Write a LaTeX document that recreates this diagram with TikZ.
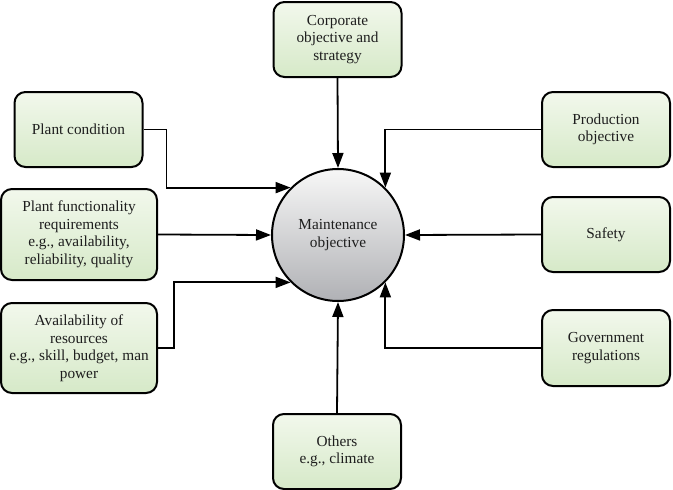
\documentclass[tikz,border=0pt]{standalone}
\usepackage{fontspec}
\setmainfont{Liberation Serif}
\usetikzlibrary{arrows.meta,shapes.geometric}
\definecolor{boxtop}{HTML}{F2F8EC}
\definecolor{boxbot}{HTML}{D6E9C8}
\definecolor{circtop}{HTML}{F7F7F7}
\definecolor{circbot}{HTML}{B0B1B5}
\definecolor{txt}{HTML}{1E1E1E}
\begin{document}
\begin{tikzpicture}[x=1pt,y=-1pt,
  factor/.style={draw=black, line width=2pt, rounded corners=11pt,
    top color=boxtop, bottom color=boxbot, align=center, text=txt,
    font=\fontsize{15.3}{17.5}\selectfont, inner sep=0pt},
  sbox/.style={factor, minimum width=128pt, minimum height=75pt},
  wbox/.style={factor, minimum width=156pt, minimum height=91pt},
  hub/.style={circle, draw=black, line width=2pt, top color=circtop,
    bottom color=circbot, minimum size=132pt, inner sep=0pt, align=center,
    text=txt, font=\fontsize{15.3}{17.5}\selectfont},
  arr/.style={line width=1.8pt, -{Triangle[length=15pt,width=11pt]}}]
\useasboundingbox (0,0) rectangle (673,490);
\node[hub] (m) at (338,235) {Maintenance\\objective};
\node[sbox] (co) at (337.5,39.5) {Corporate\\objective and\\strategy};
\node[sbox] (pc) at (78.5,129.5) {Plant condition};
\node[wbox] (pf) at (79,234.5) {Plant functionality\\requirements\\e.g., availability,\\reliability, quality};
\node[wbox, minimum height=90pt] (av) at (79,348) {Availability of\\resources\\e.g., skill, budget, man\\power};
\node[sbox] (ot) at (337,451.5) {Others\\e.g., climate};
\node[sbox] (po) at (606,129.5) {Production\\objective};
\node[sbox] (sa) at (606,234.5) {Safety};
\node[sbox, minimum height=76pt] (gr) at (606,348) {Government\\regulations};
\draw[arr] (co.south) -- (m.north);
\draw[arr] (ot.north) -- (m.south);
\draw[arr] (pf.east) -- (m.west);
\draw[arr] (sa.west) -- (m.east);
\draw[arr] (pc.east) -- ++(23,0) |- (m.135);
\draw[arr] (av.east) -- ++(16,0) |- (m.225);
\draw[arr] (po.west) -| (m.45);
\draw[arr] (gr.west) -| (m.315);
\end{tikzpicture}
\end{document}
